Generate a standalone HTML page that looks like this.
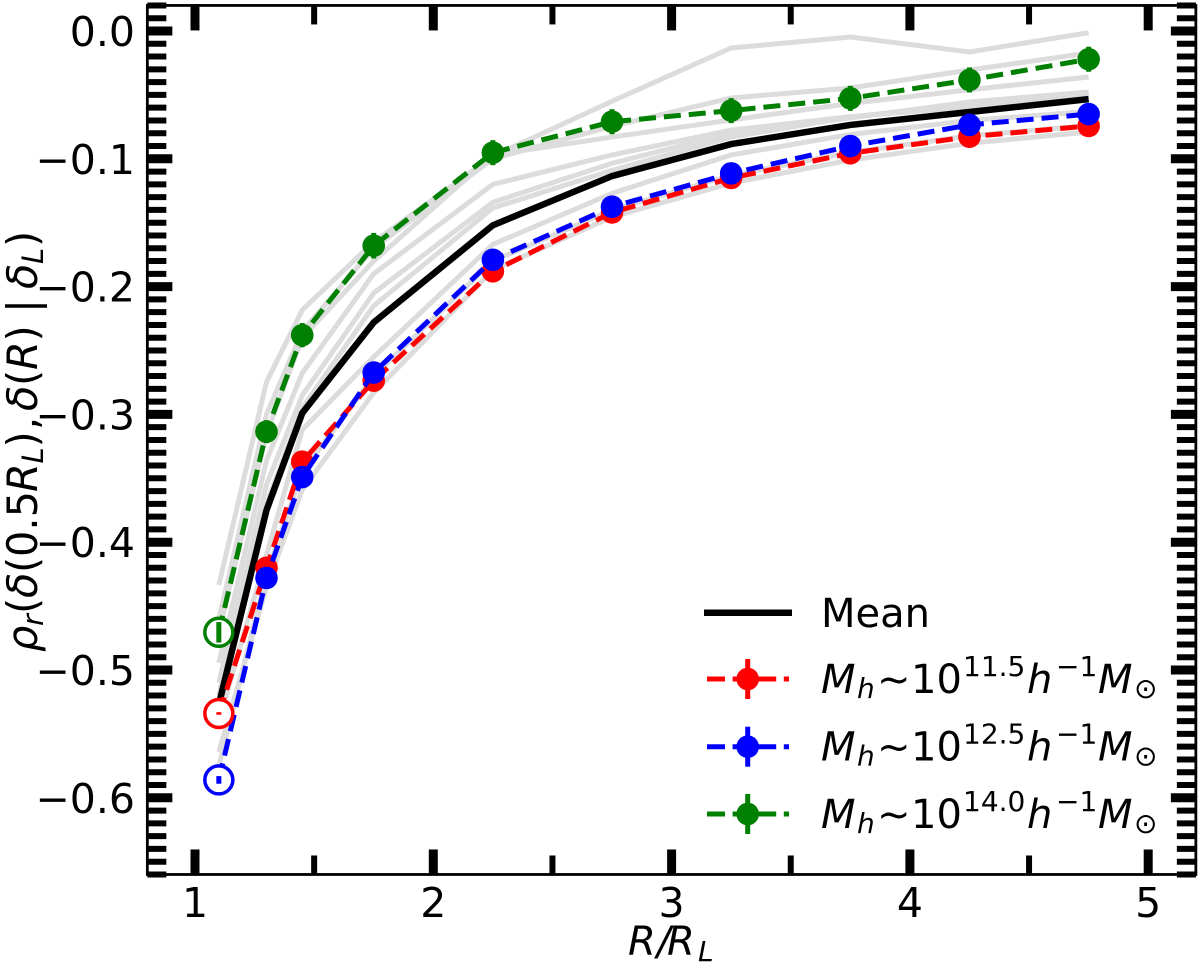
<!DOCTYPE html>
<html>
<head>
<meta charset="utf-8">
<title>Correlation chart</title>
<style>
html,body{margin:0;padding:0;background:#fff;}
svg{display:block;}
text{font-family:"DejaVu Sans","Liberation Sans",sans-serif;fill:#000;}
.it{font-style:italic;}
</style>
</head>
<body>
<svg id="chart" xmlns="http://www.w3.org/2000/svg" width="1200" height="971" viewBox="0 0 1200 971">
  <rect x="0" y="0" width="1200" height="971" fill="#fff"/>
  <g id="grey-lines"></g>
  <g id="series"></g>
  <g id="open"></g>
  <g id="axes"></g>

  <text font-size="40" class="it" y="955"><tspan x="628">R</tspan><tspan x="657">/</tspan><tspan x="667">R</tspan><tspan x="698" y="961" font-size="28">L</tspan></text>

  <text font-size="41.5" transform="translate(37,650) rotate(-90)"><tspan class="it" x="-2" y="0">ρ</tspan><tspan class="it" x="24" y="6" font-size="29">r</tspan><tspan x="36" y="0">(</tspan><tspan class="it" x="52" y="0">δ</tspan><tspan x="77" y="0">(</tspan><tspan x="93" y="0">0.5</tspan><tspan class="it" x="158" y="0">R</tspan><tspan class="it" x="186.5" y="6" font-size="29">L</tspan><tspan x="202.5" y="0">)</tspan><tspan x="220" y="0">,</tspan><tspan class="it" x="239" y="0">δ</tspan><tspan x="264" y="0">(</tspan><tspan class="it" x="280" y="0">R</tspan><tspan x="308.5" y="0">)</tspan><tspan x="337" y="0">|</tspan><tspan class="it" x="361" y="0">δ</tspan><tspan class="it" x="386" y="6" font-size="29">L</tspan><tspan x="403" y="0">)</tspan></text>

  <g id="legend">
    <g>
      <line x1="704" y1="612.7" x2="792" y2="612.7" stroke="#000" stroke-width="6.5"/>
      <text x="821" y="627" font-size="40">Mean</text>
    </g>
    <g>
      <line x1="707" y1="679" x2="789" y2="679" stroke="#f00" stroke-width="5" stroke-dasharray="18 7.6"/>
      <line x1="747.7" y1="659" x2="747.7" y2="699" stroke="#f00" stroke-width="5"/>
      <circle cx="747.7" cy="679" r="11.3" fill="#f00"/>
      <text font-size="40" y="693"><tspan class="it" x="821">M</tspan><tspan class="it" x="857" y="698" font-size="28">h</tspan><tspan x="877" y="693">~</tspan><tspan x="911" y="693">10</tspan><tspan x="963" y="676" font-size="28">11.5</tspan><tspan class="it" x="1027" y="693">h</tspan><tspan x="1056" y="676" font-size="28">−1</tspan><tspan class="it" x="1098" y="693">M</tspan><tspan x="1134" y="698" font-size="28">⊙</tspan></text>
    </g>
    <g>
      <line x1="707" y1="746.7" x2="789" y2="746.7" stroke="#00f" stroke-width="5" stroke-dasharray="18 7.6"/>
      <line x1="747.7" y1="726.7" x2="747.7" y2="766.7" stroke="#00f" stroke-width="5"/>
      <circle cx="747.7" cy="746.7" r="11.3" fill="#00f"/>
      <text font-size="40" y="760.7"><tspan class="it" x="821">M</tspan><tspan class="it" x="857" y="765.7" font-size="28">h</tspan><tspan x="877" y="760.7">~</tspan><tspan x="911" y="760.7">10</tspan><tspan x="963" y="743.7" font-size="28">12.5</tspan><tspan class="it" x="1027" y="760.7">h</tspan><tspan x="1056" y="743.7" font-size="28">−1</tspan><tspan class="it" x="1098" y="760.7">M</tspan><tspan x="1134" y="765.7" font-size="28">⊙</tspan></text>
    </g>
    <g>
      <line x1="707" y1="814" x2="789" y2="814" stroke="#008000" stroke-width="5" stroke-dasharray="18 7.6"/>
      <line x1="747.7" y1="794" x2="747.7" y2="834" stroke="#008000" stroke-width="5"/>
      <circle cx="747.7" cy="814" r="11.3" fill="#008000"/>
      <text font-size="40" y="828"><tspan class="it" x="821">M</tspan><tspan class="it" x="857" y="833" font-size="28">h</tspan><tspan x="877" y="828">~</tspan><tspan x="911" y="828">10</tspan><tspan x="963" y="811" font-size="28">14.0</tspan><tspan class="it" x="1027" y="828">h</tspan><tspan x="1056" y="811" font-size="28">−1</tspan><tspan class="it" x="1098" y="828">M</tspan><tspan x="1134" y="833" font-size="28">⊙</tspan></text>
    </g>
  </g>
</svg>
<script>
const radii = [1.1, 1.3, 1.45, 1.75, 2.25, 2.75, 3.25, 3.75, 4.25, 4.75];
const meanValues = [-0.527, -0.375, -0.299, -0.228, -0.152, -0.1135, -0.0885, -0.0735, -0.0634, -0.0533];
const redValues = [-0.534, -0.42, -0.337, -0.2736, -0.188, -0.142, -0.115, -0.0957, -0.0827, -0.0743];
const blueValues = [-0.586, -0.428, -0.349, -0.2673, -0.179, -0.1375, -0.1114, -0.09, -0.0735, -0.065];
const greenValues = [-0.4705, -0.3135, -0.238, -0.168, -0.0952, -0.071, -0.0623, -0.0527, -0.0383, -0.0221];
const redErrors = [0.001, 0.003, 0.003, 0.003, 0.003, 0.003, 0.003, 0.003, 0.003, 0.003];
const blueErrors = [0.003, 0.004, 0.004, 0.004, 0.004, 0.004, 0.004, 0.004, 0.004, 0.004];
const greenErrors = [0.008, 0.009, 0.0095, 0.01, 0.0098, 0.0098, 0.0098, 0.0098, 0.0098, 0.0098];
const grey1 = [-0.4335, -0.2746, -0.2183, -0.165, -0.098, -0.055, -0.0133, -0.0047, -0.0164, -0.0013];
const grey2 = [-0.46, -0.3, -0.235, -0.17, -0.1, -0.0745, -0.0524, -0.0446, -0.0305, -0.0172];
const grey3 = [-0.47, -0.315, -0.24, -0.18, -0.097, -0.083, -0.0696, -0.0567, -0.046, -0.036];
const grey4 = [-0.4945, -0.336, -0.2677, -0.19, -0.12, -0.097, -0.0775, -0.067, -0.0595, -0.0486];
const grey5 = [-0.51, -0.355, -0.285, -0.205, -0.134, -0.1035, -0.08, -0.068, -0.0555, -0.0477];
const grey6 = [-0.52, -0.37, -0.295, -0.215, -0.1385, -0.109, -0.083, -0.0675, -0.0565, -0.05];
const grey7 = [-0.54, -0.41, -0.312, -0.255, -0.167, -0.127, -0.097, -0.081, -0.07, -0.063];
const grey8 = [-0.564, -0.435, -0.359, -0.283, -0.187, -0.1455, -0.119, -0.101, -0.0878, -0.079];
const grey9 = [-0.575, -0.425, -0.345, -0.27, -0.18, -0.14, -0.113, -0.095, -0.082, -0.074];
const xTickValues = [1, 2, 3, 4, 5];
const xMinorValues = [1.5, 2.5, 3.5, 4.5];
const yTickValues = [0, -0.1, -0.2, -0.3, -0.4, -0.5, -0.6];
const yTickLabels = ['0.0', '−0.1', '−0.2', '−0.3', '−0.4', '−0.5', '−0.6'];

const NS = 'http://www.w3.org/2000/svg';
const sx = v => 195 + (v - 1) * 238.3;
const sy = v => 31 - v * 1278;
const LEFT = sx(0.8), RIGHT = sx(5.2), TOP = sy(0.02), BOTTOM = sy(-0.66);

function mk(tag, parent, attrs) {
  const el = document.createElementNS(NS, tag);
  for (const k in attrs) el.setAttribute(k, attrs[k]);
  parent.appendChild(el);
  return el;
}
function pts(vals) {
  return vals.map((v, i) => sx(radii[i]).toFixed(2) + ',' + sy(v).toFixed(2)).join(' ');
}

const greyGroup = document.getElementById('grey-lines');
[grey1, grey2, grey3, grey4, grey5, grey6, grey7, grey8, grey9].forEach(vals => {
  const el = mk('polyline', greyGroup, {points: pts(vals), fill: 'none', stroke: '#dcdcdc', 'stroke-width': 5});
  
  
});

const seriesGroup = document.getElementById('series');
const meanLine = mk('polyline', seriesGroup, {points: pts(meanValues), fill: 'none', stroke: '#000', 'stroke-width': 6.5});



const openGroup = document.getElementById('open');
[[redValues, redErrors, '#f00'], [blueValues, blueErrors, '#00f'], [greenValues, greenErrors, '#008000']].forEach(s => {
  const vals = s[0], errs = s[1], color = s[2];
  const line = mk('polyline', seriesGroup, {points: pts(vals), fill: 'none', stroke: color, 'stroke-width': 5, 'stroke-dasharray': '17 8'});
  
  
  vals.forEach((v, i) => {
    const x = sx(radii[i]);
    if (i === 0) {
      const ring = mk('circle', openGroup, {cx: x, cy: sy(v), r: 14, fill: '#fff', stroke: color, 'stroke-width': 3.5});
      
      
      const bar = mk('line', openGroup, {x1: x, x2: x, y1: sy(v + errs[i]), y2: sy(v - errs[i]), stroke: color, 'stroke-width': 5});
      
      
    } else {
      const bar = mk('line', seriesGroup, {x1: x, x2: x, y1: sy(v + errs[i]), y2: sy(v - errs[i]), stroke: color, 'stroke-width': 5});
      
      
      const dot = mk('circle', seriesGroup, {cx: x, cy: sy(v), r: 11.3, fill: color});
      
      
    }
  });
});

const axes = document.getElementById('axes');
function hTick(y, len, w) {
  const a = mk('line', axes, {x1: LEFT, x2: LEFT + len, y1: y, y2: y, stroke: '#000', 'stroke-width': w});
  
  
  const b = mk('line', axes, {x1: RIGHT, x2: RIGHT - len, y1: y, y2: y, stroke: '#000', 'stroke-width': w});
  
  
}
function vTick(x, len, w) {
  const a = mk('line', axes, {x1: x, x2: x, y1: BOTTOM, y2: BOTTOM - len, stroke: '#000', 'stroke-width': w});
  
  
  const b = mk('line', axes, {x1: x, x2: x, y1: TOP, y2: TOP + len, stroke: '#000', 'stroke-width': w});
  
  
}
for (let k = -66; k <= 2; k++) {
  if (k % 10 !== 0) hTick(sy(k / 100), 19, 6);
}
yTickValues.forEach((v, i) => {
  hTick(sy(v), 25, 9);
  const t = mk('text', axes, {x: 135, y: sy(v) + 15, 'font-size': 41, 'text-anchor': 'end'});
  t.textContent = yTickLabels[i];
  
  
});
xMinorValues.forEach(v => vTick(sx(v), 19, 6));
xTickValues.forEach(v => {
  vTick(sx(v), 25, 9);
  const t = mk('text', axes, {x: sx(v), y: 917, 'font-size': 41, 'text-anchor': 'middle'});
  t.textContent = String(v);
  
  
});
const frame = mk('rect', axes, {x: LEFT, y: TOP, width: RIGHT - LEFT, height: BOTTOM - TOP, fill: 'none', stroke: '#000', 'stroke-width': 2.8});


</script>
</body>
</html>
